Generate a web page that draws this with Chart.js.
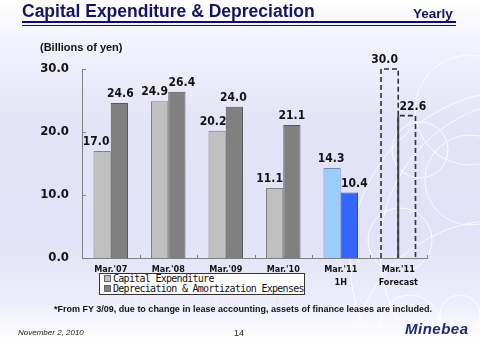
<!DOCTYPE html>
<html><head><meta charset="utf-8">
<script src="https://cdn.jsdelivr.net/npm/chart.js@4"></script>
<style>
html,body{margin:0;padding:0;}
body{width:480px;height:340px;position:relative;overflow:hidden;
background:linear-gradient(to bottom,#ffffff 0%,#f3f3fd 12%,#e4e4f8 35%,#e2e2f8 70%,#ececfa 88%,#ffffff 100%);
font-family:"Liberation Sans",Arial,sans-serif;}
#deco{position:absolute;left:0;top:0;}
#c{position:absolute;left:0;top:0;}
.t{position:absolute;white-space:nowrap;}
#title{left:22px;top:1px;font-weight:bold;font-size:17.5px;color:#141464;}
#yearly{left:413px;top:6px;font-weight:bold;font-size:13.5px;color:#141464;}
#ul1{position:absolute;left:22px;top:21px;width:434px;height:2px;background:#0a0a80;}
#ul2{position:absolute;left:22px;top:25px;width:434px;height:1px;background:#0a0a80;}
#unit{left:40px;top:41px;font-weight:bold;font-size:11px;color:#111;}
#legend{position:absolute;left:99px;top:273px;width:206px;height:22px;border:1px solid #333;background:#fff;
font-family:"DejaVu Sans Mono",monospace;font-size:10px;line-height:10px;color:#111;padding-left:4px;padding-top:0px;box-sizing:border-box;}
#legend div{white-space:nowrap;letter-spacing:-0.72px;}
#legend span.sq{display:inline-block;width:5px;height:5px;border:1px solid #666;margin-right:2px;vertical-align:0px;}
#note{left:0;width:486px;text-align:center;top:304px;font-weight:bold;font-size:9px;color:#111;}
#date{left:18px;top:328px;font-style:italic;font-size:8px;color:#222;}
#page{left:234px;top:328px;font-size:9px;color:#222;}
#logo{left:405px;top:320px;font-style:italic;font-weight:bold;font-size:15px;color:#1a2a7a;letter-spacing:0.5px;}
</style></head>
<body>
<svg id="deco" width="480" height="340">
<g fill="none" stroke="#ffffff" stroke-width="1" opacity="0.85">
<circle cx="520" cy="260" r="170"/>
<circle cx="530" cy="250" r="150"/>
<circle cx="470" cy="110" r="55"/>
<circle cx="470" cy="180" r="45"/>
<circle cx="420" cy="150" r="28"/>
<circle cx="400" cy="240" r="32"/>
<circle cx="410" cy="325" r="30"/>
<circle cx="460" cy="315" r="20"/>
<circle cx="500" cy="370" r="150"/>
</g>
</svg>
<canvas id="c" width="480" height="340"></canvas>
<div class="t" id="title">Capital Expenditure &amp; Depreciation</div>
<div class="t" id="yearly">Yearly</div>
<div id="ul1"></div><div id="ul2"></div>
<div class="t" id="unit">(Billions of yen)</div>
<div id="legend">
<div><span class="sq" style="background:#c0c0c0"></span>Capital Expenditure</div>
<div><span class="sq" style="background:#808080"></span>Depreciation &amp; Amortization Expenses</div>
</div>
<div class="t" id="note">*From FY 3/09, due to change in lease accounting, assets of finance leases are included.</div>
<div class="t" id="date">November 2, 2010</div>
<div class="t" id="page">14</div>
<div class="t" id="logo">Minebea</div>
<script>
const categories = [["Mar.'07"],["Mar.'08"],["Mar.'09"],["Mar.'10"],["Mar.'11","1H"],["Mar.'11","Forecast"]];
const capex = [17.0, 24.9, 20.2, 11.1, 14.3, 30.0];
const depreciation = [24.6, 26.4, 24.0, 21.1, 10.4, 22.6];
const yTicks = [0, 10, 20, 30];
const seriesNames = ["Capital Expenditure", "Depreciation & Amortization Expenses"];

const capexFill = ['#c0c0c0','#c0c0c0','#c0c0c0','#c0c0c0','#99ccff','rgba(0,0,0,0)'];
const capexBorder = ['#808080','#808080','#808080','#808080','#6b8fb8','rgba(0,0,0,0)'];
const depFill = ['#808080','#808080','#808080','#808080','#3366ff','rgba(0,0,0,0)'];
const depBorder = ['#5a5a5a','#5a5a5a','#5a5a5a','#5a5a5a','#2a4fc0','rgba(0,0,0,0)'];
const dashedIndex = 5;
// small horizontal nudges of the value labels (as placed in the original slide)
const labelNudge = [[-6,-5,-4,-5,-1,-5],[1,5,-1,0,5,6]];

const labelFont = 'bold 12px "DejaVu Sans Condensed","DejaVu Sans",sans-serif';

const plugin = {
  id: 'extras',
  afterDatasetsDraw(chart) {
    const ctx = chart.ctx;
    const area = chart.chartArea;
    const els = chart.data.datasets.map((ds, di) => chart.getDatasetMeta(di).data[dashedIndex]);
    els.forEach((el, di) => {
      const l = el.x - el.width / 2, r = el.x + el.width / 2;
      ctx.save();
      ctx.strokeStyle = '#303030';
      ctx.lineWidth = 1.6;
      ctx.setLineDash([5, 3]);
      ctx.beginPath();
      ctx.moveTo(l, el.base);
      ctx.lineTo(l, el.y);
      ctx.lineTo(r, el.y);
      ctx.lineTo(r, el.base);
      ctx.stroke();
      ctx.restore();
    });
    // shared edge of the two forecast bars drawn solid
    {
      const a = els[0], b = els[1];
      const x = (a.x + a.width / 2 + b.x - b.width / 2) / 2;
      ctx.save();
      ctx.strokeStyle = '#404040';
      ctx.lineWidth = 1.8;
      ctx.beginPath();
      ctx.moveTo(x, a.base);
      ctx.lineTo(x, Math.max(a.y, b.y));
      ctx.stroke();
      ctx.restore();
    }
    ctx.save();
    ctx.font = labelFont;
    ctx.fillStyle = '#111';
    ctx.textAlign = 'center';
    ctx.textBaseline = 'bottom';
    chart.data.datasets.forEach((ds, di) => {
      chart.getDatasetMeta(di).data.forEach((el, i) => {
        ctx.fillText(ds.data[i].toFixed(1), el.x + labelNudge[di][i], el.y - 3);
      });
    });
    ctx.restore();
    const ys = chart.scales.y;
    ctx.save();
    ctx.strokeStyle = '#808080';
    ctx.lineWidth = 1;
    const n = categories.length;
    const cw = (area.right - area.left) / n;
    for (let i = 0; i <= n; i++) {
      const x = Math.round(area.left + cw * i) + 0.5;
      ctx.beginPath(); ctx.moveTo(x, area.bottom); ctx.lineTo(x, area.bottom - 3); ctx.stroke();
    }
    yTicks.forEach(v => {
      const y = Math.round(ys.getPixelForValue(v)) + 0.5;
      ctx.beginPath(); ctx.moveTo(area.left, y); ctx.lineTo(area.left + 4, y); ctx.stroke();
    });
    ctx.restore();
  }
};

new Chart(document.getElementById('c'), {
  type: 'bar',
  data: {
    labels: categories,
    datasets: [
      { label: seriesNames[0], data: capex, backgroundColor: capexFill, borderColor: capexBorder, borderWidth: 1 },
      { label: seriesNames[1], data: depreciation, backgroundColor: depFill, borderColor: depBorder, borderWidth: 1 }
    ]
  },
  options: {
    responsive: false,
    animation: false,
    layout: { padding: { left: 0, top: 69, right: 53, bottom: 52 } },
    datasets: { bar: { categoryPercentage: 0.6, barPercentage: 1.0 } },
    plugins: { legend: { display: false }, tooltip: { enabled: false } },
    scales: {
      x: {
        afterFit(s) { s.height = 30; },
        grid: { display: false, drawOnChartArea: false, drawTicks: false, tickLength: 0 },
        border: { display: true, color: '#808080', width: 1 },
        ticks: { color: '#111', font: { family: '"DejaVu Sans Condensed","DejaVu Sans",sans-serif', size: 9, weight: 'bold', lineHeight: 1.45 }, padding: 5, maxRotation: 0, autoSkip: false }
      },
      y: {
        min: 0, max: 30,
        afterFit(s) { s.width = 82; },
        afterBuildTicks(s) { s.ticks = yTicks.map(v => ({ value: v })); },
        grid: { display: false, drawOnChartArea: false, drawTicks: false, tickLength: 0 },
        border: { display: true, color: '#808080', width: 1 },
        ticks: { color: '#111', padding: 13, font: { family: '"DejaVu Sans Condensed","DejaVu Sans",sans-serif', size: 13, weight: 'bold' }, callback: v => Number(v).toFixed(1) }
      }
    }
  },
  plugins: [plugin]
});
</script>
</body></html>
